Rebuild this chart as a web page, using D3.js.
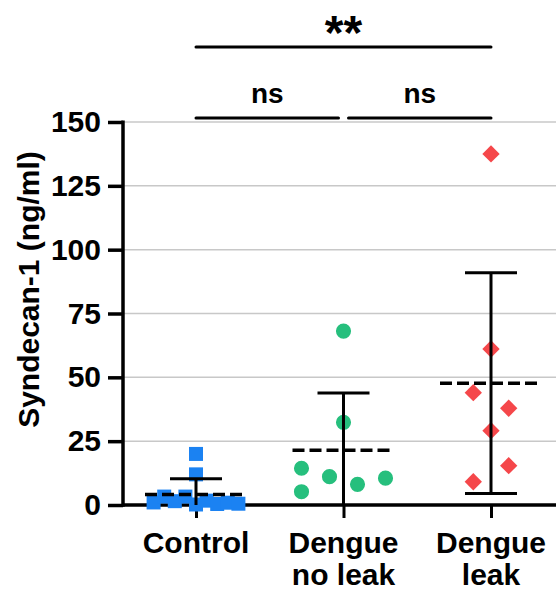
<!DOCTYPE html>
<html>
<head>
<meta charset="utf-8">
<script src="https://cdn.jsdelivr.net/npm/d3@7/dist/d3.min.js"></script>
<style>
  html, body { margin: 0; padding: 0; background: #ffffff; }
  svg { display: block; }
  text { font-family: "Liberation Sans", Arial, Helvetica, sans-serif; font-weight: bold; fill: #000; }
</style>
</head>
<body>
<div id="chart"></div>
<script>
// Serum syndecan-1 by patient group
const categories = ["Control", "Dengue no leak", "Dengue leak"];
const categoryLines = [["Control"], ["Dengue", "no leak"], ["Dengue", "leak"]];

const controlValues = [1.0, 3.3, 1.5, 3.3, 20.0, 12.0, 0.2, 1.7, 0.4, 0.9, 0.5];
const noLeakValues  = [68.1, 32.4, 14.4, 5.2, 11.1, 8.1, 10.5];
const leakValues    = [137.5, 61.1, 44.0, 37.9, 29.1, 15.4, 9.1];

// scatter lane of each point (column index within the group)
const controlLanes = [-4, -3, -2, -1, 0, 0, 0, 1, 2, 3, 4];
const noLeakLanes  = [0, 0, -3, -3, -1, 1, 3];
const leakLanes    = [0, 0, -1, 1, 0, 1, -1];

const yTicks = [0, 25, 50, 75, 100, 125, 150];

// pairwise comparisons: [from, to, label]
const comparisons = [
  ["Control", "Dengue no leak", "ns"],
  ["Dengue no leak", "Dengue leak", "ns"],
  ["Control", "Dengue leak", "**"]
];

const groups = [
  { name: categories[0], values: controlValues, lanes: controlLanes, color: "#1b82f2", shape: "square", lane: 10.6 },
  { name: categories[1], values: noLeakValues,  lanes: noLeakLanes,  color: "#26bf7d", shape: "circle", lane: 14 },
  { name: categories[2], values: leakValues,    lanes: leakLanes,    color: "#f5474a", shape: "diamond", lane: 17.7 }
];

const W = 560, H = 590;
const svg = d3.select("#chart").append("svg").attr("width", W).attr("height", H);

const axisLeftX = 123, axisRightX = 556;
const x = d3.scalePoint().domain(categories).range([196, 491]);
const y = d3.scaleLinear().domain([0, 150]).range([505, 122]);

// horizontal grid
svg.append("g").selectAll("line").data(yTicks.filter(d => d > 0)).join("line")
  .attr("x1", axisLeftX).attr("x2", axisRightX)
  .attr("y1", d => y(d)).attr("y2", d => y(d))
  .attr("stroke", "#c8c8c8").attr("stroke-width", 1.5);

// y axis
const yAxis = svg.append("g").attr("transform", `translate(${axisLeftX},0)`)
  .call(d3.axisLeft(y).tickValues(yTicks).tickSize(15).tickPadding(7).tickFormat(d3.format("d")));
yAxis.select(".domain").attr("stroke", "#000").attr("stroke-width", 3.5);
yAxis.selectAll(".tick line").attr("stroke", "#000").attr("stroke-width", 3.5);
yAxis.selectAll(".tick text").attr("font-size", 30).attr("font-weight", "bold")
  .attr("font-family", "Liberation Sans, Arial, sans-serif").attr("fill", "#000");
yAxis.select(".domain").attr("d", `M0,${y(0) + 1.75}V${y(150) - 1.5}`);

// x axis
const xAxis = svg.append("g").attr("transform", `translate(0,${y(0)})`)
  .call(d3.axisBottom(x).tickSize(13).tickFormat(""));
xAxis.select(".domain").remove();
xAxis.selectAll(".tick line").attr("stroke", "#000").attr("stroke-width", 3);
svg.append("line")
  .attr("x1", axisLeftX).attr("x2", axisRightX)
  .attr("y1", y(0)).attr("y2", y(0))
  .attr("stroke", "#000").attr("stroke-width", 3.5);

// category labels
const catG = svg.append("g");
categoryLines.forEach((lines, i) => {
  const t = catG.append("text")
    .attr("x", x(categories[i])).attr("y", 553)
    .attr("text-anchor", "middle").attr("font-size", 30);
  lines.forEach((ln, j) => {
    t.append("tspan").attr("x", x(categories[i])).attr("dy", j === 0 ? 0 : 32).text(ln);
  });
});

// y axis title
svg.append("text")
  .attr("transform", `translate(39,${(152 + 427) / 2}) rotate(-90)`)
  .attr("text-anchor", "middle").attr("font-size", 30)
  .text("Syndecan-1 (ng/ml)");

// mean and SD
groups.forEach(g => {
  const cx = x(g.name);
  const mean = d3.mean(g.values);
  const sd = d3.deviation(g.values);
  const top = mean + sd, bottom = Math.max(0, mean - sd);

  // points
  const sym = g.shape === "circle" ? d3.symbolCircle : d3.symbolSquare;
  const size = g.shape === "square" ? 196 : g.shape === "circle" ? 180 : 150;
  const pg = svg.append("g");
  pg.selectAll("path").data(g.values.map((v, i) => ({ v, lane: g.lanes[i] }))).join("path")
    .attr("d", d3.symbol().type(sym).size(size))
    .attr("transform", d => `translate(${cx + d.lane * g.lane},${y(d.v)})` + (g.shape === "diamond" ? " rotate(45)" : ""))
    .attr("fill", g.color);

  const eg = svg.append("g");
  // error bar
  eg.append("line").attr("x1", cx).attr("x2", cx).attr("y1", y(top)).attr("y2", y(bottom))
    .attr("stroke", "#000").attr("stroke-width", 3);
  eg.append("line").attr("x1", cx - 26).attr("x2", cx + 26).attr("y1", y(top)).attr("y2", y(top))
    .attr("stroke", "#000").attr("stroke-width", 3);
  if (bottom > 0) {
    eg.append("line").attr("x1", cx - 26).attr("x2", cx + 26).attr("y1", y(bottom)).attr("y2", y(bottom))
      .attr("stroke", "#000").attr("stroke-width", 3);
  }
  // mean (dashed)
  eg.append("line").attr("x1", cx - 51).attr("x2", cx + 51).attr("y1", y(mean)).attr("y2", y(mean))
    .attr("stroke", "#000").attr("stroke-width", 3.5).attr("stroke-dasharray", "12,5");
});

// significance brackets
const levelY = { "ns": 118, "**": 47 };
comparisons.forEach(([a, b, label]) => {
  let x1 = x(a), x2 = x(b);
  if (label === "ns") {
    if (a === categories[0]) x2 -= 5; else x1 += 5;
  }
  const ly = levelY[label];
  svg.append("line").attr("x1", x1).attr("x2", x2).attr("y1", ly).attr("y2", ly)
    .attr("stroke", "#000").attr("stroke-width", 3).attr("stroke-linecap", "round");
  svg.append("text")
    .attr("x", (x1 + x2) / 2).attr("y", label === "**" ? ly + 2 : ly - 15)
    .attr("text-anchor", "middle").attr("font-size", label === "**" ? 48 : 28)
    .text(label);
});
</script>
</body>
</html>
